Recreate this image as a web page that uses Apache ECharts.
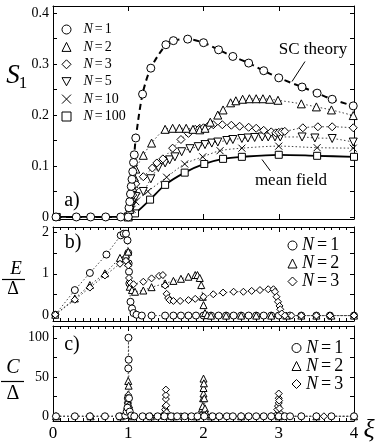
<!DOCTYPE html>
<html><head><meta charset="utf-8">
<script src="https://cdn.jsdelivr.net/npm/echarts@6/dist/echarts.min.js"></script>
<style>html,body{margin:0;padding:0;background:#fff}#c{width:382px;height:442px}</style>
</head><body><div id="c"></div>
<script>
// ---------- data ----------
const xTicks = [0, 1, 2, 3, 4];
const yTicksA = [0, 0.1, 0.2, 0.3, 0.4];
const yTickMarksA = [0, 0.05, 0.1, 0.15, 0.2, 0.25, 0.3, 0.35, 0.4];
const yTicksB = [0, 1, 2];
const yTickMarksB = [0, 0.5, 1, 1.5, 2];
const yTicksC = [0, 50, 100];
const yTickMarksC = [0, 25, 50, 75, 100];
const legendA = ['N=1', 'N=2', 'N=3', 'N=5', 'N=10', 'N=100'];
const legendBC = ['N=1', 'N=2', 'N=3'];

// panel a) S1 vs xi
const S1_N1 = [[0.04,0],[0.31,0],[0.5,0],[0.7,0],[0.9,0],[1.0,0],[1.01,0.018],[1.02,0.03],[1.03,0.045],[1.04,0.06],[1.05,0.074],[1.06,0.089],[1.07,0.107],[1.08,0.122],[1.1,0.155],[1.19,0.241],[1.3,0.292],[1.5,0.338],[1.6,0.346],[1.79,0.349],[2.0,0.342],[2.2,0.328],[2.39,0.315],[2.6,0.302],[2.8,0.287],[3.0,0.273],[3.31,0.255],[3.51,0.243],[3.71,0.231],[3.99,0.218]];
const S1_N2 = [[1.0,0],[1.02,0.015],[1.04,0.035],[1.06,0.058],[1.08,0.078],[1.1,0.094],[1.2,0.121],[1.31,0.145],[1.49,0.172],[1.59,0.174],[1.68,0.174],[1.77,0.174],[1.86,0.172],[1.95,0.171],[2.02,0.174],[2.09,0.186],[2.19,0.2],[2.26,0.21],[2.36,0.224],[2.43,0.228],[2.52,0.231],[2.61,0.232],[2.7,0.232],[2.79,0.232],[2.88,0.231],[2.99,0.229],[3.3,0.222],[3.5,0.216],[3.7,0.21],[3.99,0.199]];
const S1_N3 = [[1.0,0],[1.02,0.012],[1.04,0.028],[1.06,0.043],[1.08,0.056],[1.1,0.065],[1.2,0.079],[1.32,0.096],[1.38,0.106],[1.46,0.114],[1.59,0.135],[1.7,0.152],[1.8,0.164],[1.89,0.172],[1.95,0.174],[2.0,0.175],[2.06,0.178],[2.13,0.181],[2.25,0.181],[2.37,0.18],[2.48,0.178],[2.6,0.176],[2.7,0.174],[2.8,0.17],[2.9,0.167],[2.96,0.165],[3.0,0.166],[3.04,0.167],[3.08,0.168],[3.32,0.175],[3.52,0.177],[3.71,0.177],[3.99,0.175]];
const S1_N5 = [[1.0,0],[1.02,0.01],[1.04,0.02],[1.06,0.03],[1.1,0.04],[1.2,0.05],[1.3,0.075],[1.4,0.097],[1.49,0.106],[1.55,0.112],[1.62,0.118],[1.71,0.128],[1.82,0.134],[1.93,0.138],[2.02,0.142],[2.11,0.145],[2.19,0.147],[2.31,0.15],[2.39,0.152],[2.51,0.154],[2.59,0.155],[2.68,0.156],[2.78,0.157],[2.86,0.157],[2.95,0.157],[3.02,0.157],[3.31,0.157],[3.48,0.155],[3.71,0.154],[3.99,0.147]];
const S1_N10 = [[1.0,0],[1.05,0.015],[1.1,0.03],[1.26,0.05],[1.51,0.078],[1.75,0.104],[1.99,0.118],[2.22,0.13],[2.51,0.135],[3.0,0.139],[3.51,0.136],[3.99,0.135]];
const S1_N100 = [[0.05,0],[1.0,0],[1.09,0.007],[1.29,0.034],[1.49,0.063],[1.75,0.087],[2.01,0.104],[2.26,0.114],[2.51,0.118],[3.0,0.122],[3.51,0.12],[4.0,0.118]];

// panel b) E/Delta vs xi
const E_N1 = [[0.03,0.02],[0.29,0.61],[0.49,1.02],[0.71,1.46],[0.9,1.92],[0.94,1.96],[0.97,1.96],[0.99,1.8],[1.0,1.5],[1.005,1.25],[1.01,1.05],[1.015,0.77],[1.03,0.33],[1.05,0.17],[1.07,0.06],[1.11,0.02],[1.18,0],[1.31,0],[1.49,0],[1.6,0],[1.7,0],[1.8,0],[1.9,0],[2.0,0],[2.1,0],[2.2,0],[2.3,0],[2.4,0],[2.5,0],[2.6,0],[2.7,0],[2.8,0],[2.9,0],[3.0,0],[3.15,0],[3.3,0],[3.5,0],[3.68,0],[4.0,0]];
const E_N2 = [[0.03,0.02],[0.29,0.41],[0.49,0.73],[0.69,1.01],[0.89,1.38],[0.97,1.46],[1.0,1.53],[1.0,1.27],[1.02,0.69],[1.05,0.61],[1.09,0.57],[1.2,0.6],[1.31,0.68],[1.49,0.77],[1.6,0.83],[1.7,0.88],[1.8,0.93],[1.89,0.97],[1.92,0.97],[1.95,0.9],[1.97,0.73],[1.99,0.45],[2.0,0.25],[2.02,0.06],[2.05,0.01],[2.1,0],[2.3,0],[2.5,0],[2.7,0],[2.9,0],[3.1,0],[3.3,0],[3.5,0],[3.7,0],[4.0,0]];
const E_N3 = [[0.03,0.02],[0.29,0.38],[0.49,0.67],[0.69,0.96],[0.89,1.24],[0.97,1.31],[1.0,1.2],[1.01,0.9],[1.03,0.78],[1.07,0.75],[1.2,0.81],[1.31,0.89],[1.41,0.95],[1.46,0.97],[1.49,0.72],[1.51,0.52],[1.53,0.42],[1.55,0.37],[1.6,0.35],[1.69,0.35],[1.8,0.37],[1.89,0.4],[2.0,0.45],[2.13,0.51],[2.26,0.55],[2.4,0.57],[2.53,0.57],[2.64,0.59],[2.75,0.61],[2.86,0.63],[2.93,0.63],[2.95,0.57],[2.97,0.45],[2.99,0.33],[3.01,0.23],[3.02,0.15],[3.04,0.05],[3.08,0],[3.17,0],[3.3,0],[3.5,0],[3.68,0],[4.0,0]];

// panel c) C/Delta vs xi
const C_N1 = [[0.04,0],[0.29,0],[0.49,0],[0.69,0],[0.88,0],[0.96,1],[0.98,6],[0.99,11],[0.995,23],[1.0,61],[1.003,100],[1.006,72],[1.01,23],[1.02,6],[1.04,1],[1.08,0],[1.19,0],[1.28,0],[1.39,0],[1.48,0],[1.57,0],[1.65,0],[1.75,0],[1.84,0],[1.92,0],[2.01,0],[2.12,0],[2.21,0],[2.31,0],[2.39,0],[2.5,0],[2.6,0],[2.7,0],[2.8,0],[2.9,0],[3.0,0],[3.08,0],[3.15,0],[3.3,0],[3.5,0],[3.7,0],[4.0,0]];
const C_N2 = [[0.04,0],[0.5,0],[0.9,0],[0.97,2],[0.99,8],[0.995,20],[1.0,45],[1.005,39],[1.01,15],[1.02,4],[1.05,0],[1.3,0],[1.6,0],[1.9,0],[1.97,3],[1.98,10],[1.99,13],[1.995,23],[2.0,29],[2.0,36],[2.0,48],[2.005,42],[2.01,23],[2.02,10],[2.04,3],[2.1,0],[2.5,0],[3.0,0],[3.5,0],[4.0,0]];
const C_N3 = [[0.04,0],[0.5,0],[0.9,0],[0.98,3],[0.99,10],[0.995,18],[1.0,27],[1.005,22],[1.01,9],[1.03,2],[1.06,0],[1.3,0],[1.45,0],[1.48,3],[1.49,8.5],[1.495,13],[1.5,22],[1.5,27],[1.5,34],[1.505,14],[1.51,5],[1.53,0],[1.7,0],[2.0,0],[2.5,0],[2.9,0],[2.96,1],[2.98,8.5],[2.99,13],[3.0,17],[3.0,23],[3.0,29],[3.005,20],[3.01,10],[3.03,3],[3.06,0],[3.3,0],[3.6,0],[4.0,0]];

// ---------- chart ----------
const FONT = '"Liberation Serif", "Times New Roman", serif';
const chart = echarts.init(document.getElementById('c'), null, {renderer: 'canvas'});

const grids = [
  {left: 53, width: 301, top: 6, height: 213},
  {left: 53, width: 301, top: 227, height: 94},
  {left: 53, width: 301, top: 326, height: 97}
];
const yRanges = [[-0.004, 0.414], [-0.13, 2.12], [-6, 115]];
const yLabels = [yTicksA, yTicksB, yTicksC];
const yMarks = [yTickMarksA, yTickMarksB, yTickMarksC];

const axLine = {show: true, onZero: false, lineStyle: {color: '#000', width: 1}};
const xAxes = [], yAxes = [];
for (let g = 0; g < 3; g++) {
  ['bottom', 'top'].forEach(pos => {
    xAxes.push({
      type: 'value', gridIndex: g, position: pos, min: xTicks[0], max: xTicks[xTicks.length - 1], interval: 1,
      axisLine: axLine,
      axisTick: {show: true, inside: true, length: 5, lineStyle: {color: '#000', width: 1}},
      minorTick: {show: g > 0, splitNumber: 10, length: 3, lineStyle: {color: '#000', width: 1}},
      axisLabel: {show: g === 2 && pos === 'bottom', margin: 4, color: '#000', fontFamily: FONT, fontSize: 17},
      splitLine: {show: false}
    });
  });
  ['left', 'right'].forEach(pos => {
    yAxes.push({
      type: 'value', gridIndex: g, position: pos, min: yRanges[g][0], max: yRanges[g][1],
      axisLine: axLine,
      axisTick: {show: true, inside: true, length: 4, customValues: yMarks[g], lineStyle: {color: '#000', width: 1}},
      axisLabel: {show: pos === 'left', customValues: yLabels[g], margin: 4, color: '#000', fontFamily: FONT, fontSize: 14},
      splitLine: {show: false}
    });
  });
}

const MK = {
  circle: {symbol: 'circle'},
  tri: {symbol: 'triangle'},
  dia: {symbol: 'diamond'},
  dtri: {symbol: 'triangle', symbolRotate: 180},
  cross: {symbol: 'path://M0,0L10,10M10,0L0,10'},
  sq: {symbol: 'rect'}
};
function ser(name, data, g, mk, size, line, smooth) {
  return Object.assign({
    type: 'line', name: name, data: data,
    xAxisIndex: g * 2, yAxisIndex: g * 2,
    symbolSize: size, showSymbol: true, smooth: smooth || false,
    itemStyle: {color: '#fff', borderColor: '#000', borderWidth: 1},
    lineStyle: line, emphasis: {disabled: true}, animation: false
  }, MK[mk]);
}
const dotted = {color: '#444', width: 1, type: [1.5, 2.2]};
const dashed = {color: '#000', width: 2, type: [6, 4]};
const solid = {color: '#000', width: 1.8, type: 'solid'};

const series = [
  ser('N=100', S1_N100, 0, 'sq', 7, solid, 0.3),
  ser('N=10', S1_N10, 0, 'cross', 7, dotted, 0.3),
  ser('N=5', S1_N5, 0, 'dtri', 8, dotted, 0.3),
  ser('N=3', S1_N3, 0, 'dia', 8, dotted, 0.3),
  ser('N=2', S1_N2, 0, 'tri', 8, dotted, 0.3),
  ser('N=1', S1_N1, 0, 'circle', 8, dashed, 0.3),
  ser('N=1', E_N1, 1, 'circle', 7, dotted),
  ser('N=2', E_N2, 1, 'tri', 7, dotted),
  ser('N=3', E_N3, 1, 'dia', 7, dotted),
  ser('N=3', C_N3, 2, 'dia', 7, dotted),
  ser('N=2', C_N2, 2, 'tri', 7, dotted),
  ser('N=1', C_N1, 2, 'circle', 7, dotted)
];

const iconFor = {'N=1': 'circle', 'N=2': 'triangle', 'N=3': 'diamond', 'N=5': 'path://M0,0L10,0L5,9Z', 'N=10': 'path://M0,0L10,10M10,0L0,10', 'N=100': 'rect'};
function legendData(names) {
  return names.map(n => ({name: n, icon: iconFor[n], itemStyle: {color: '#fff', borderColor: '#000', borderWidth: 1}}));
}
function legendFmt(name) {
  const p = name.split('=');
  return '{i|' + p[0] + '}{e|=}{n|' + p[1] + '}';
}
function legendText(fs, lh, pad, lead) {
  return {
    color: '#000', fontFamily: FONT, fontSize: fs, lineHeight: lh,
    rich: {
      i: {fontStyle: 'italic', fontFamily: FONT, fontSize: fs, lineHeight: lh, color: '#000', padding: [0, 0, 0, lead]},
      e: {fontFamily: FONT, fontSize: fs, lineHeight: lh, padding: [0, pad], color: '#000'},
      n: {fontFamily: FONT, fontSize: fs, lineHeight: lh, color: '#000'}
    }
  };
}
const legends = [
  {orient: 'vertical', left: 61.5, top: 22, padding: 0, itemWidth: 9, itemHeight: 9, itemGap: 2.4, selectedMode: false,
   data: legendData(legendA), formatter: legendFmt, textStyle: legendText(14, 15, 2, 7.5)},
  {orient: 'vertical', left: 287.5, top: 236.5, padding: 0, itemWidth: 9, itemHeight: 9, itemGap: 0, selectedMode: false,
   data: legendData(legendBC), formatter: legendFmt, textStyle: legendText(18, 17, 3, 0)},
  {orient: 'vertical', left: 291.5, top: 339, padding: 0, itemWidth: 9, itemHeight: 9, itemGap: 0, selectedMode: false,
   data: legendData(legendBC), formatter: legendFmt, textStyle: legendText(18, 18, 3, 0)}
];

function txt(t, x, y, font, align) {
  return {type: 'text', x: x, y: y, silent: true,
    style: {text: t, font: font, fill: '#000', align: align || 'center', verticalAlign: 'middle'}};
}
function ln(x1, y1, x2, y2, w) {
  return {type: 'line', silent: true, shape: {x1: x1, y1: y1, x2: x2, y2: y2}, style: {stroke: '#000', lineWidth: w || 1}};
}
const graphic = [
  txt('S', 13, 76, 'italic 27px ' + FONT),
  txt('1', 23, 84, '17px ' + FONT),
  txt('E', 16, 269, 'italic 19px ' + FONT),
  ln(2, 279.5, 25, 279.5, 1.2),
  txt('Δ', 13, 289, '18px ' + FONT),
  txt('C', 13, 368, 'italic 20px ' + FONT),
  ln(1, 381.5, 24, 381.5, 1.2),
  txt('Δ', 13, 394, '20px ' + FONT),
  txt('ξ', 369, 430, 'italic 26px ' + FONT),
  txt('a)', 72, 201, '20px ' + FONT),
  txt('b)', 73, 243, '20px ' + FONT),
  txt('c)', 72, 345, '20px ' + FONT),
  txt('SC theory', 313, 50, '17px ' + FONT),
  ln(305, 61.5, 292, 81.5),
  txt('mean field', 291, 181, '17px ' + FONT),
  ln(262, 159.5, 270.5, 171)
];

chart.setOption({
  backgroundColor: '#fff',
  animation: false,
  grid: grids,
  xAxis: xAxes,
  yAxis: yAxes,
  legend: legends,
  series: series,
  graphic: graphic
});
</script></body></html>
